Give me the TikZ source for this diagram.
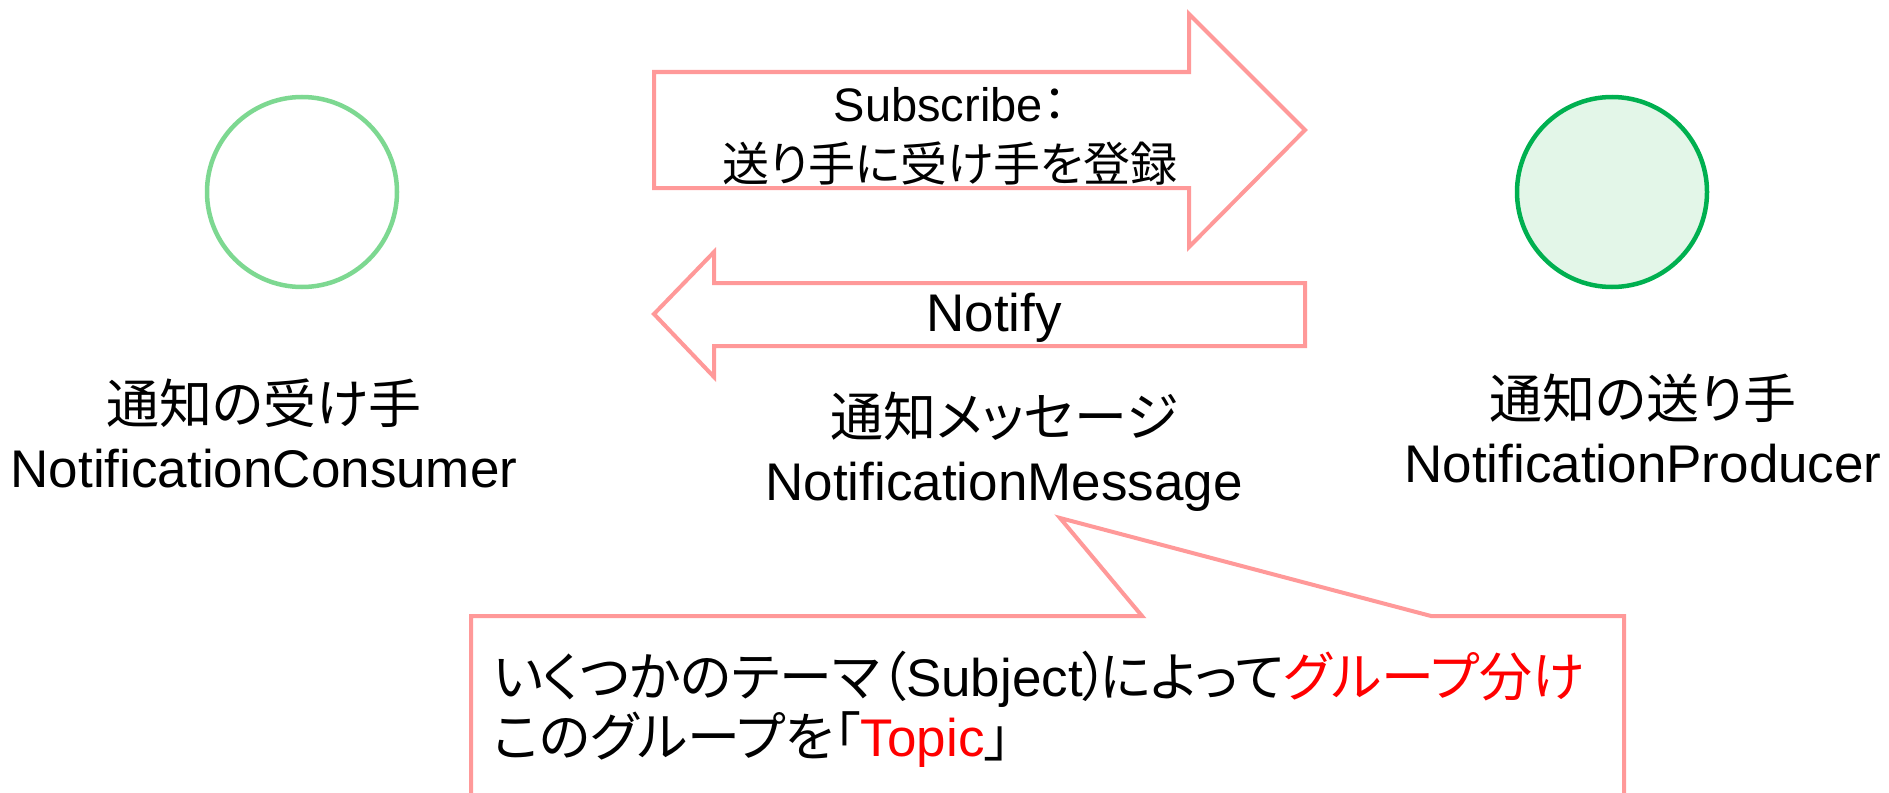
\documentclass[tikz,border=0pt]{standalone}
\usepackage{fontspec}
\setmainfont{Liberation Sans}
\newfontfamily\jp[RawFeature=+palt]{Noto Sans CJK JP}
\definecolor{pinkline}{RGB}{255,153,153}
\definecolor{lgreen}{RGB}{125,216,145}
\definecolor{dgreen}{RGB}{0,176,80}
\definecolor{gfill}{RGB}{227,246,232}
\definecolor{redtext}{RGB}{255,0,0}
\tikzset{
  roleball/.style={circle, line width=4.5pt, minimum size=190pt, inner sep=0pt},
  blockarrow/.style={draw=pinkline, line width=4pt, fill=white, line join=miter},
  label/.style={align=center, inner sep=0pt, font=\fontsize{53}{64}\selectfont},
}
\begin{document}
\begin{tikzpicture}[x=1pt,y=-1pt]
\useasboundingbox (0,0) rectangle (1889,792);
\clip (0,0) rectangle (1889,792);
\fill[white] (0,0) rectangle (1889,792);

% participants
\node[roleball, draw=lgreen] (consumer) at (302,192) {};
\node[roleball, draw=dgreen, fill=gfill] (producer) at (1612,192) {};

\node[label] (consumerlabel) at (264,433) {{\jp 通知の受け手}\\NotificationConsumer};
\node[label] (messagelabel) at (1004,452) {{\jp 通知メッセージ}\\NotificationMessage};
\node[label] (producerlabel) at (1643,428) {{\jp 通知の送り手}\\NotificationProducer};

% Subscribe arrow
\draw[blockarrow] (654,72) -- (1189,72) -- (1189,14) -- (1305,130) -- (1189,247) -- (1189,188) -- (654,188) -- cycle;
\node[align=center, inner sep=0pt, font=\fontsize{47}{60}\selectfont] (subscribe) at (950,136) {Subscribe{\jp ：}\\{\jp 送り手に受け手を登録}};

% Notify arrow
\draw[blockarrow] (1305,283) -- (714,283) -- (714,252) -- (654,314) -- (714,377) -- (714,346) -- (1305,346) -- cycle;
\node[inner sep=0pt, font=\fontsize{53}{64}\selectfont] (notify) at (994,318) {Notify};

% callout
\coordinate (tip) at (1060,518);
\draw[draw=pinkline, line width=4pt, fill=white, line join=miter]
  (1142,616) -- (tip) -- (1431,616) -- (1624,616) -- (1624,820) -- (471,820) -- (471,616) -- cycle;
\node[anchor=north west, align=left, inner sep=0pt, font=\fontsize{53}{60}\selectfont] (topic) at (493,651)
  {{\jp いくつかのテーマ（}Subject{\jp ）\kern-.18em によって\textcolor{redtext}{グループ分け}}\\
   {\jp このグループを「}\textcolor{redtext}{Topic}{\jp 」}};
\end{tikzpicture}
\end{document}
